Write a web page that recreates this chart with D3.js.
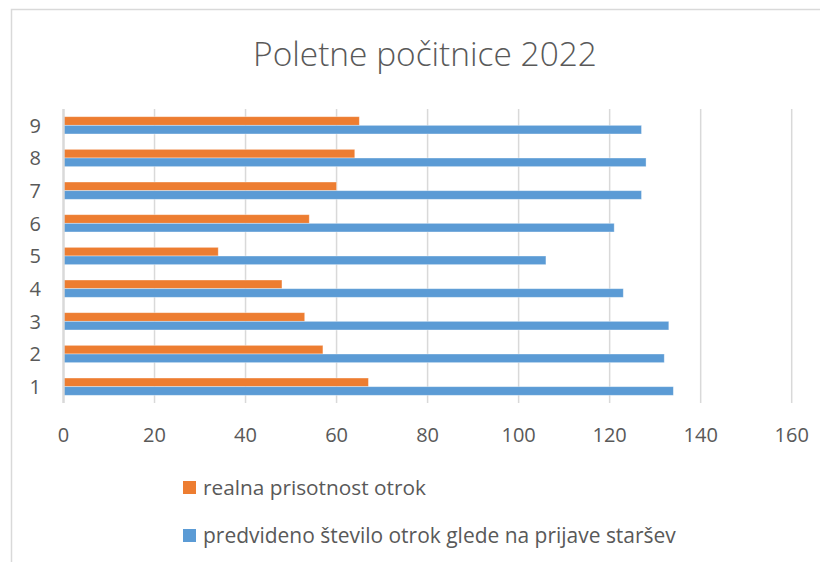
<!DOCTYPE html>
<html>
<head>
<meta charset="utf-8">
<script src="https://cdn.jsdelivr.net/npm/d3@7"></script>
<style>
  body { margin: 0; background: #fff; }
  svg { display: block; font-family: "Open Sans", "Noto Sans", sans-serif; }
</style>
</head>
<body>
<svg id="chart" width="820" height="562"></svg>
<script>
// data
var categories = ["1", "2", "3", "4", "5", "6", "7", "8", "9"];
var realna = [67, 57, 53, 48, 34, 54, 60, 64, 65];
var predvideno = [134, 132, 133, 123, 106, 121, 127, 128, 127];
var xTicks = [0, 20, 40, 60, 80, 100, 120, 140, 160];
var seriesNames = ["realna prisotnost otrok", "predvideno število otrok glede na prijave staršev"];
var seriesColors = ["#ED7D31", "#5B9BD5"];
var title = "Poletne počitnice 2022";

var svg = d3.select("#chart");
var textColor = "#595959";
var gridColor = "#d9d9d9";

var plot = { left: 63.5, right: 791.7, top: 109, bottom: 403 };

// chart frame
svg.append("path")
	.attr("d", "M11.5,562 L11.5,9.5 L820,9.5")
	.style("fill", "none")
	.style("stroke", gridColor)
	.style("stroke-width", 1.5);

var x = d3.scaleLinear()
	.domain([0, 160])
	.range([plot.left, plot.right]);

var y = d3.scaleBand()
	.domain(categories.slice().reverse())
	.range([plot.top, plot.bottom])
	.paddingInner(0.47)
	.paddingOuter(0.235);

var sub = d3.scaleBand()
	.domain([0, 1])
	.range([0, y.bandwidth()]);

// grid lines
svg.append("g").selectAll("line")
	.data(xTicks.filter(function (t) { return t !== 0; }))
	.enter().append("line")
	.attr("x1", function (d) { return x(d); })
	.attr("x2", function (d) { return x(d); })
	.attr("y1", plot.top)
	.attr("y2", plot.bottom)
	.style("stroke", gridColor)
	.style("stroke-width", 1.5);

// bars
var rows = categories.map(function (c, i) {
	return { cat: c, values: [realna[i], predvideno[i]] };
});

var group = svg.append("g").selectAll("g")
	.data(rows)
	.enter().append("g")
	.attr("transform", function (d) { return "translate(0," + y(d.cat) + ")"; });

group.selectAll("rect")
	.data(function (d) { return d.values; })
	.enter().append("rect")
	.attr("x", x(0))
	.attr("y", function (d, i) { return sub(i); })
	.attr("width", function (d) { return x(d) - x(0); })
	.attr("height", sub.bandwidth())
	.style("fill", function (d, i) { return seriesColors[i]; })
	.style("stroke", "#fff")
	.style("stroke-opacity", 0.45)
	.style("stroke-width", 0.8);

// value axis line at zero
svg.append("line")
	.attr("x1", x(0))
	.attr("x2", x(0))
	.attr("y1", plot.top)
	.attr("y2", plot.bottom)
	.style("stroke", gridColor)
	.style("stroke-width", 2.5);

// x tick labels
svg.append("g").selectAll("text")
	.data(xTicks)
	.enter().append("text")
	.attr("x", function (d) { return x(d); })
	.attr("y", 442)
	.attr("text-anchor", "middle")
	.style("font-size", "20px")
	.style("fill", textColor)
	.text(function (d) { return d; });

// y category labels
svg.append("g").selectAll("text")
	.data(categories)
	.enter().append("text")
	.attr("x", 41)
	.attr("y", function (d) { return y(d) + y.bandwidth() / 2; })
	.attr("dy", "0.36em")
	.attr("text-anchor", "end")
	.style("font-size", "20px")
	.style("fill", textColor)
	.text(function (d) { return d; });

// fit text to a target width
function fit(sel, width) {
	var size = parseFloat(sel.style("font-size"));
	var len = sel.node().getComputedTextLength();
	sel.style("font-size", (size * width / len) + "px");
}

var t = svg.append("text")
	.attr("x", 425)
	.attr("y", 66)
	.attr("text-anchor", "middle")
	.style("font-size", "30px")
	.style("font-weight", 300)
	.style("fill", textColor)
	.text(title);
fit(t, 344);

// legend
var legendY = [481, 529];
var legend = svg.append("g").selectAll("g")
	.data(seriesNames)
	.enter().append("g");

legend.append("rect")
	.attr("x", 183)
	.attr("y", function (d, i) { return legendY[i]; })
	.attr("width", 13)
	.attr("height", 13)
	.style("fill", function (d, i) { return seriesColors[i]; });

var legendWidths = [223, 473];
legend.append("text")
	.attr("x", 203)
	.attr("y", function (d, i) { return legendY[i] + 14; })
	.style("font-size", "20px")
	.style("fill", textColor)
	.text(function (d) { return d; })
	.each(function (d, i) { fit(d3.select(this), legendWidths[i]); });
</script>
</body>
</html>
